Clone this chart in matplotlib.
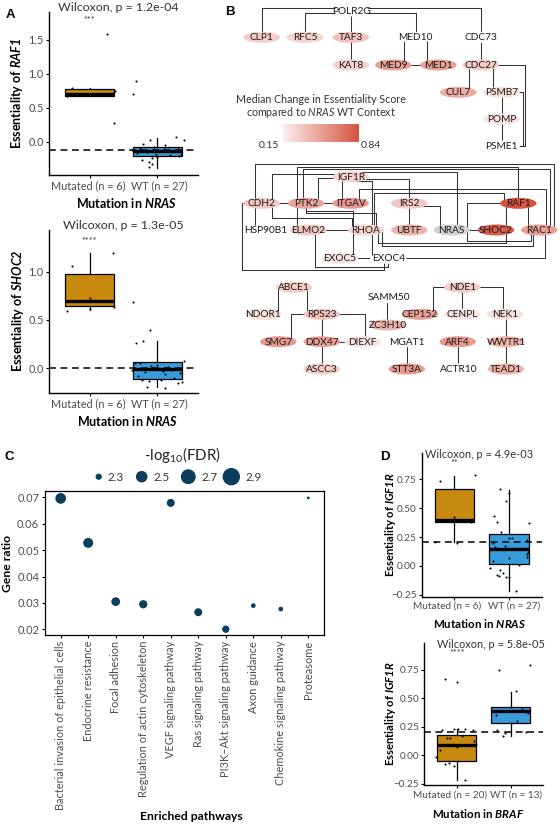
import numpy as np
import matplotlib
matplotlib.use('Agg')
import matplotlib.pyplot as plt
import matplotlib.transforms as mtransforms
from matplotlib.patches import Ellipse
from matplotlib.colors import LinearSegmentedColormap, Normalize

FONT = 'Lato'
plt.rcParams['font.family'] = [FONT, 'DejaVu Sans']
plt.rcParams['mathtext.fontset'] = 'custom'
plt.rcParams['mathtext.rm'] = FONT
plt.rcParams['mathtext.it'] = FONT + ':italic'
plt.rcParams['mathtext.bf'] = FONT + ':bold'
try:
    plt.rcParams['mathtext.bfit'] = FONT + ':bold:italic'
    BFIT = r'\mathbfit'
except KeyError:
    BFIT = r'\mathbf'

# ---------------------------------------------------------------- data
groups_nras = ['Mutated (n = 6)', 'WT (n = 27)']
groups_braf = ['Mutated (n = 20)', 'WT (n = 13)']

# Panel A top: RAF1 essentiality by NRAS status (value, jitter offset)
raf1_mut = [1.58, 0.79, 0.75, 0.70, 0.67, 0.28]
raf1_mut_jit = [0.26, -0.26, 0.37, 0.0, -0.33, 0.36]
raf1_wt = [0.90, 0.70, 0.07, 0.03, 0.03, -0.03, -0.05, -0.08, -0.09, -0.10, -0.11, -0.12,
           -0.12, -0.13, -0.14, -0.15, -0.16, -0.17, -0.18, -0.19, -0.20, -0.22, -0.24,
           -0.27, -0.29, -0.33, -0.37]
raf1_wt_jit = [-0.31, -0.36, 0.27, 0.39, -0.11, -0.21, 0.12, -0.05, -0.25, 0.10, 0.30, -0.38,
               0.14, 0.05, -0.15, 0.22, -0.30, 0.35, -0.02, 0.18, 0.32, 0.0, -0.08,
               -0.22, -0.12, -0.08, -0.12]
raf1_box = dict(q1=[0.68, -0.20], med=[0.71, -0.13], q3=[0.78, -0.07], lo=[0.67, -0.38], hi=[0.79, 0.06])

# Panel A bottom: SHOC2
shoc2_mut = [1.19, 1.06, 0.73, 0.63, 0.61, 0.59]
shoc2_mut_jit = [0.35, -0.26, 0.0, 0.36, 0.0, -0.33]
shoc2_wt = [0.69, 0.40, 0.28, 0.26, 0.08, 0.06, 0.05, 0.03, 0.02, 0.01, 0.00, -0.01, -0.02,
            -0.02, -0.03, -0.04, -0.05, -0.06, -0.08, -0.10, -0.12, -0.12, -0.13, -0.14,
            -0.15, -0.19, -0.20]
shoc2_wt_jit = [-0.36, -0.11, -0.21, -0.31, 0.39, -0.33, -0.25, 0.0, -0.10, 0.15, 0.30, -0.05,
                0.22, -0.38, 0.08, -0.18, 0.34, 0.12, -0.28, 0.25, -0.22, 0.05, -0.12, 0.36,
                0.31, -0.15, 0.12]
shoc2_box = dict(q1=[0.64, -0.11], med=[0.70, -0.01], q3=[0.98, 0.07], lo=[0.60, -0.19], hi=[1.19, 0.28])

# Panel D top: IGF1R by NRAS
igf_n_mut = [0.79, 0.74, 0.42, 0.38, 0.21, 0.20]
igf_n_mut_jit = [0.37, -0.27, 0.0, 0.31, -0.35, 0.05]
igf_n_wt = [0.67, 0.63, 0.56, 0.43, 0.38, 0.37, 0.29, 0.24, 0.24, 0.22, 0.20, 0.17, 0.16, 0.12,
            0.10, 0.08, 0.07, 0.04, 0.01, -0.02, -0.04, -0.06, -0.08, -0.09, -0.10, -0.10, -0.22]
igf_n_wt_jit = [-0.17, 0.0, -0.06, -0.27, -0.22, 0.37, -0.15, 0.0, 0.05, 0.32, -0.30, -0.08,
                -0.26, 0.35, 0.33, 0.33, 0.0, -0.30, 0.18, -0.35, -0.17, -0.12, -0.22, -0.18,
                -0.05, 0.0, 0.12]
igf_n_box = dict(q1=[0.38, 0.015], med=[0.40, 0.145], q3=[0.665, 0.28], lo=[0.21, -0.22], hi=[0.78, 0.66])

# Panel D bottom: IGF1R by BRAF
igf_b_mut = [0.67, 0.64, 0.23, 0.23, 0.23, 0.22, 0.22, 0.17, 0.15, 0.15, 0.12, 0.10, 0.09,
             0.07, 0.04, -0.02, -0.07, -0.08, -0.10, -0.22]
igf_b_mut_jit = [-0.22, 0.0, -0.05, 0.15, 0.02, 0.30, -0.28, 0.10, -0.18, -0.12, 0.32, 0.36,
                 -0.22, 0.0, -0.30, -0.38, -0.15, -0.22, -0.05, 0.15]
igf_b_wt = [0.79, 0.75, 0.56, 0.42, 0.40, 0.37, 0.35, 0.30, 0.28, 0.22, 0.20, 0.19, 0.17]
igf_b_wt_jit = [0.35, -0.22, 0.10, 0.0, 0.22, 0.33, -0.28, 0.12, 0.0, -0.25, 0.28, -0.10, -0.15]
igf_b_box = dict(q1=[-0.05, 0.28], med=[0.085, 0.385], q3=[0.175, 0.42], lo=[-0.22, 0.17], hi=[0.23, 0.555])

# Panel C: enrichment
pathways = ['Bacterial invasion of epithelial cells', 'Endocrine resistance', 'Focal adhesion',
            'Regulation of actin cytoskeleton', 'VEGF signaling pathway', 'Ras signaling pathway',
            'PI3K\u2013Akt signaling pathway', 'Axon guidance', 'Chemokine signaling pathway',
            'Proteasome']
gene_ratio = [0.0695, 0.0527, 0.0305, 0.0295, 0.0678, 0.0265, 0.0201, 0.0290, 0.0277, 0.0697]
neglog_fdr = [2.457, 2.425, 2.373, 2.358, 2.348, 2.348, 2.327, 2.270, 2.270, 2.252]
legend_breaks = [2.3, 2.5, 2.7, 2.9]

# Panel B: network (layout in pixel units, score = median change; None = no fill)
layout = {
    'POLR2G': (351.7, 11), 'CLP1': (261.7, 37.3), 'RFC5': (305, 37.3), 'TAF3': (350.7, 37.3),
    'MED10': (415, 37.3), 'CDC73': (480.7, 37.3), 'KAT8': (350.7, 65), 'MED9': (393.3, 65),
    'MED1': (438.3, 65), 'CDC27': (480.7, 65), 'CUL7': (458.3, 92.3), 'PSMB7': (501.7, 92.3),
    'POMP': (501.7, 119), 'PSME1': (501.7, 146),
    'IGF1R': (350.7, 176.7), 'CDH2': (261.7, 203.3), 'PTK2': (306, 203.3), 'ITGAV': (350.7, 203.3),
    'IRS2': (409.3, 203.3), 'RAF1': (518.3, 203.3), 'HSP90B1': (266, 230), 'ELMO2': (308.3, 230),
    'RHOA': (366, 230), 'UBTF': (409.3, 230), 'NRAS': (451.7, 230), 'SHOC2': (496, 230),
    'RAC1': (539.3, 230), 'EXOC5': (340, 258.3), 'EXOC4': (388.3, 258.3),
    'ABCE1': (294, 287.3), 'NDOR1': (263.3, 314.3), 'RPS23': (321.7, 314.3), 'SAMM50': (389, 297.7),
    'ZC3H10': (387.3, 325), 'NDE1': (462.3, 287.3), 'CEP152': (420, 314.3), 'CENPL': (462.3, 314.3),
    'NEK1': (505, 314.3), 'SMG7': (278.3, 341.7), 'DDX47': (321.7, 341.7), 'DIEXF': (362.7, 341.7),
    'MGAT1': (406.7, 341.7), 'ARF4': (457.7, 341.7), 'WWTR1': (506, 341.7), 'ASCC3': (321.7, 369),
    'STT3A': (406.7, 369), 'ACTR10': (458.3, 369), 'TEAD1': (506, 369),
}
score = {
    'POLR2G': None, 'CLP1': 0.30, 'RFC5': 0.27, 'TAF3': 0.35, 'MED10': None, 'CDC73': None,
    'KAT8': 0.27, 'MED9': 0.50, 'MED1': 0.50, 'CDC27': 0.30, 'CUL7': 0.45, 'PSMB7': 0.22,
    'POMP': 0.20, 'PSME1': None,
    'IGF1R': 0.27, 'CDH2': 0.32, 'PTK2': 0.48, 'ITGAV': 0.52, 'IRS2': 0.32, 'RAF1': 0.84,
    'HSP90B1': None, 'ELMO2': 0.32, 'RHOA': 0.27, 'UBTF': 0.42, 'NRAS': 'ref', 'SHOC2': 0.80,
    'RAC1': 0.50, 'EXOC5': 0.20, 'EXOC4': None,
    'ABCE1': 0.30, 'NDOR1': 0.22, 'RPS23': 0.35, 'SAMM50': None, 'ZC3H10': 0.42, 'NDE1': 0.30,
    'CEP152': 0.50, 'CENPL': 0.20, 'NEK1': 0.22, 'SMG7': 0.52, 'DDX47': 0.50, 'DIEXF': 0.20,
    'MGAT1': None, 'ARF4': 0.52, 'WWTR1': 0.42, 'ASCC3': 0.30, 'STT3A': 0.52, 'ACTR10': None,
    'TEAD1': 0.42,
}
# edges: (a, b, level, dx_a, dx_b) orthogonal routing
edges = [
    ('POLR2G', 'CLP1', 8, 0, 0), ('POLR2G', 'CDC73', 8, 0, 0), ('RFC5', 'MED10', 13.3, 0, 1),
    ('POLR2G', 'TAF3', None, 0, 0), ('TAF3', 'KAT8', None, 0, 0),
    ('MED10', 'MED9', None, -11, 10.7), ('MED10', 'MED1', None, 11.7, -11.6), ('MED9', 'MED1', None, 0, 0),
    ('CDC73', 'CDC27', None, 0, 0), ('CDC27', 'CUL7', None, -11.7, 10.7),
    ('CDC27', 'PSMB7', None, 12, -9), ('CDC27', 'PSME1', 146, 44.3, 0),
    ('PSMB7', 'PSME1', 146, 21, 0), ('PSMB7', 'POMP', None, 0, 0), ('POMP', 'PSME1', None, 0, 0),
    ('CDH2', 'PTK2', None, 0, 0), ('PTK2', 'ITGAV', None, 0, 0), ('CDH2', 'HSP90B1', None, -7, -11),
    ('PTK2', 'ELMO2', None, -9, -11.3), ('ELMO2', 'RHOA', None, 0, 0), ('EXOC5', 'EXOC4', None, 0, 0),
    ('IRS2', 'UBTF', None, 0, 0), ('NRAS', 'SHOC2', None, 0, 0), ('RAF1', 'RAC1', None, 10, -11),
    ('SHOC2', 'RAF1', None, 10, -12.3), ('IGF1R', 'ITGAV', None, -9, -9),
    ('IGF1R', 'CDH2', 174, 0, 10.6), ('IGF1R', 'PTK2', 178, 0, 12.3), ('IGF1R', 'IRS2', 178.5, 0, 0),
    ('IGF1R', 'EXOC4', 181, 0, -16.6), ('IGF1R', 'NRAS', 172, 0, 5), ('IRS2', 'NRAS', 206, 0, -11.7),
    ('CDH2', 'RHOA', 218, 10.6, -14.3), ('PTK2', 'RHOA', 213, 0, 10), ('PTK2', 'EXOC5', 211, 0, 13),
    ('CDH2', 'RAC1', 164, -7, 15), ('PTK2', 'RAF1', 166.5, -9, 0), ('PTK2', 'RAC1', 169, -3, 11),
    ('ITGAV', 'RAC1', 189, 8, 7), ('RHOA', 'RAF1', 193, 8, -14), ('RHOA', 'SHOC2', 243, 12, 10),
    ('RHOA', 'RAC1', 246, 16, -6), ('RAF1', 'RAC1', 240.5, -51.6, -8),
    ('ELMO2', 'EXOC4', 266.5, 7, 0), ('CDH2', 'EXOC4', 270, -20, -4), ('EXOC4', 'RAC1', 258.3, 0, 6),
    ('ABCE1', 'NDOR1', None, -16.3, 14.4), ('ABCE1', 'RPS23', None, 13.3, -14.4),
    ('RPS23', 'SMG7', None, -31, 12.4), ('RPS23', 'DDX47', None, 0, 0), ('RPS23', 'DIEXF', None, 43.3, 2.3),
    ('DDX47', 'DIEXF', None, 0, 0), ('DDX47', 'ASCC3', None, 0, 0), ('SAMM50', 'ZC3H10', None, -2, 0),
    ('MGAT1', 'STT3A', None, 0, 0), ('NDE1', 'CEP152', None, -29, 13.3), ('NDE1', 'CENPL', None, 0, 0),
    ('NDE1', 'NEK1', None, 41, -1.7), ('NEK1', 'WWTR1', None, 1, 0), ('WWTR1', 'TEAD1', None, 0, 0),
    ('ARF4', 'ACTR10', None, 0, 0),
]
score_lo, score_hi = 0.15, 0.84

# ---------------------------------------------------------------- figure
W, H = 560, 824
fig = plt.figure(figsize=(W / 100, H / 100), dpi=100)

def px_axes(x0, y0, x1, y1, z=1):
    return fig.add_axes([x0 / W, 1 - y1 / H, (x1 - x0) / W, (y1 - y0) / H], zorder=z)

ov = px_axes(0, 0, W, H, z=0)
ov.set_xlim(0, W)
ov.set_ylim(H, 0)
ov.axis('off')

MUT_C = '#C8890F'
WT_C = '#3A9BDC'
GREY = '#4d4d4d'

def box_panel(rect, ylim, yticks, ylabels, data, box, hline, star, star_y, xlabels, fs, shift):
    ax = px_axes(*rect, z=2)
    stats = [dict(q1=box['q1'][i], med=box['med'][i], q3=box['q3'][i],
                  whislo=box['lo'][i], whishi=box['hi'][i], fliers=[]) for i in range(2)]
    bp = ax.bxp(stats, positions=[1, 2], widths=0.72, patch_artist=True, showfliers=False,
                showcaps=False, boxprops=dict(lw=0.9, edgecolor='black'),
                medianprops=dict(color='black', lw=2.4, solid_capstyle='butt'),
                whiskerprops=dict(lw=0.9, color='black'))
    for p, c in zip(bp['boxes'], [MUT_C, WT_C]):
        p.set_facecolor(c)
    for i, (vals, jit) in enumerate(data):
        ax.scatter(np.array(jit) + i + 1, vals, s=2.2, color='black', lw=0, zorder=5)
    ax.axhline(hline, color='black', lw=1.1, ls=(0, (4.5, 3)), zorder=4)
    ax.text(1, star_y, star, ha='center', va='center', fontsize=6.5, color='#333333')
    ax.set_xlim(0.4, 2.6)
    ax.set_ylim(*ylim)
    ax.set_yticks(yticks, ylabels)
    ax.set_xticks([1, 2], xlabels)
    for s in ['top', 'right']:
        ax.spines[s].set_visible(False)
    for s in ['left', 'bottom']:
        ax.spines[s].set_linewidth(1.0)
    ax.tick_params(labelsize=fs, labelcolor=GREY, length=2.2, width=0.8, pad=1.5)
    for lab, dx in zip(ax.get_xticklabels(), shift):
        lab.set_transform(lab.get_transform() + mtransforms.ScaledTranslation(dx / 100, 0, fig.dpi_scale_trans))
    ax.set_facecolor('none')
    return ax

box_panel((49, 12, 198, 175), (-0.485, 1.91), [0, 0.5, 1.0, 1.5], ['0.0', '0.5', '1.0', '1.5'],
          [(raf1_mut, raf1_mut_jit), (raf1_wt, raf1_wt_jit)], raf1_box, -0.12, '***', 1.79,
          groups_nras, 7.8, (-1, 2))
box_panel((49, 230, 198, 393), (-0.255, 1.43), [0, 0.5, 1.0], ['0.0', '0.5', '1.0'],
          [(shoc2_mut, shoc2_mut_jit), (shoc2_wt, shoc2_wt_jit)], shoc2_box, 0.0, '****', 1.31,
          groups_nras, 7.8, (-1, 2))
dt = [-0.25, 0, 0.25, 0.5, 0.75]
dtl = ['\u22120.25', '0.00', '0.25', '0.50', '0.75']
box_panel((421.7, 453.3, 541.9, 596.7), (-0.268, 0.977), dt, dtl,
          [(igf_n_mut, igf_n_mut_jit), (igf_n_wt, igf_n_wt_jit)], igf_n_box, 0.21, '**', 0.89,
          groups_nras, 7.2, (-7, 5))
box_panel((424.3, 643.3, 543, 785), (-0.263, 0.98), dt, dtl,
          [(igf_b_mut, igf_b_mut_jit), (igf_b_wt, igf_b_wt_jit)], igf_b_box, 0.20, '****', 0.89,
          groups_braf, 7.2, (-7, 5))

def txt(x, y, s, **kw):
    kw.setdefault('ha', 'center')
    kw.setdefault('va', 'center')
    ov.text(x, y, s, **kw)

# box panel texts
for (x, y, s, f) in [(118.3, 7.5, 'Wilcoxon, p = 1.2e-04', 8.9), (123.3, 225, 'Wilcoxon, p = 1.3e-05', 8.9),
                     (479, 454, 'Wilcoxon, p = 4.9e-03', 7.9), (490.8, 644.3, 'Wilcoxon, p = 5.8e-05', 7.9)]:
    txt(x, y, s, fontsize=f, color='#333333')
xl = lambda g: r'Mutation in $' + BFIT + '{' + g + '}$'
yl = lambda g: r'Essentiality of $' + BFIT + '{' + g + '}$'
txt(126.7, 203.3, xl('NRAS'), fontsize=9, fontweight='bold')
txt(128, 421, xl('NRAS'), fontsize=9, fontweight='bold')
txt(480, 623.3, xl('NRAS'), fontsize=8.3, fontweight='bold')
txt(478.3, 813.3, xl('BRAF'), fontsize=8.3, fontweight='bold')
txt(17, 93.5, yl('RAF1'), fontsize=9, fontweight='bold', rotation=90)
txt(18.3, 311, yl('SHOC2'), fontsize=9, fontweight='bold', rotation=90)
txt(390, 525, yl('IGF1R'), fontsize=8.1, fontweight='bold', rotation=90)
txt(390.7, 714, yl('IGF1R'), fontsize=8.1, fontweight='bold', rotation=90)

# panel letters
for (x, y, s) in [(10, 15, 'A'), (230, 11.7, 'B'), (9.3, 456.7, 'C'), (385, 456.7, 'D')]:
    txt(x, y, s, fontsize=9.5, fontweight='bold', family='Liberation Sans')

# ---------------------------------------------------------------- panel C
def fdr_size(v):
    d_px = 2 + 16 * np.sqrt(np.clip((np.asarray(v) - 2.25) / 0.7, 0, None))
    return (d_px * 0.72) ** 2

NAVY = '#0B3D5C'
axc = px_axes(45, 491, 324, 635, z=2)
xs = np.arange(len(pathways))
axc.scatter(xs, gene_ratio, s=fdr_size(neglog_fdr), color=NAVY, lw=0, zorder=3)
axc.set_xlim(-0.57, len(pathways) - 1 + 0.57)
axc.set_ylim(0.0179, 0.0723)
axc.set_yticks([0.02, 0.03, 0.04, 0.05, 0.06, 0.07])
axc.set_xticks(xs, pathways, rotation=90)
axc.tick_params(labelsize=7.9, labelcolor=GREY, length=2.2, width=0.8, pad=2)
for s in axc.spines.values():
    s.set_linewidth(0.9)
txt(8, 563, 'Gene ratio', fontsize=8.7, fontweight='bold', rotation=90)
txt(191.7, 816, 'Enriched pathways', fontsize=8.7, fontweight='bold')
txt(182, 455, r'-log$_{10}$(FDR)', fontsize=10.8, color='#222222')
leg_x = [98.7, 141.7, 188.3, 231.3]
ov.scatter(leg_x, [476.7] * 4, s=fdr_size(legend_breaks), color=NAVY, lw=0)
for x, b in zip(leg_x, legend_breaks):
    r = (2 + 16 * np.sqrt((b - 2.25) / 0.7)) / 2
    txt(x + r + 5.5, 477, f'{b}', fontsize=8.3, color='#333333', ha='left')

# ---------------------------------------------------------------- panel B network
cmap = LinearSegmentedColormap.from_list('ess', ['#FCEFED', '#D5533F'])
norm = Normalize(score_lo, score_hi)

for a, b, level, dxa, dxb in edges:
    xa, ya = layout[a]
    xb, yb = layout[b]
    lv = ya if level is None else level
    px = [xa, xa + dxa, xa + dxa, xb + dxb, xb + dxb, xb]
    py = [ya, ya, lv, lv, yb, yb]
    ov.plot(px, py, color='#333333', lw=0.75, solid_joinstyle='round', zorder=1)

for name, (x, y) in layout.items():
    sc = score[name]
    if sc is None:
        fc = 'white'
    elif sc == 'ref':
        fc = '#D2D2D2'
    else:
        fc = cmap(norm(sc))
    ov.add_patch(Ellipse((x, y), 36.5, 11, facecolor=fc, edgecolor='none', zorder=2))
    ov.text(x, y + 0.3, name, ha='center', va='center', fontsize=7.3, color='#1a1a1a', zorder=3)

txt(320.7, 99, 'Median Change in Essentiality Score', fontsize=7.7, color='#333333')
txt(320.7, 112.7, r'compared to $\mathit{NRAS}$ WT Context', fontsize=7.7, color='#333333')
cax = px_axes(282.7, 124, 358.3, 141.7, z=2)
cax.imshow(np.linspace(score_lo, score_hi, 256)[None, :], aspect='auto', cmap=cmap, norm=norm)
cax.axis('off')
txt(269.3, 145, f'{score_lo:.2f}', fontsize=7.5, color='#333333')
txt(370.7, 145, f'{score_hi:.2f}', fontsize=7.5, color='#333333')

fig.savefig('out.png', dpi=100)
